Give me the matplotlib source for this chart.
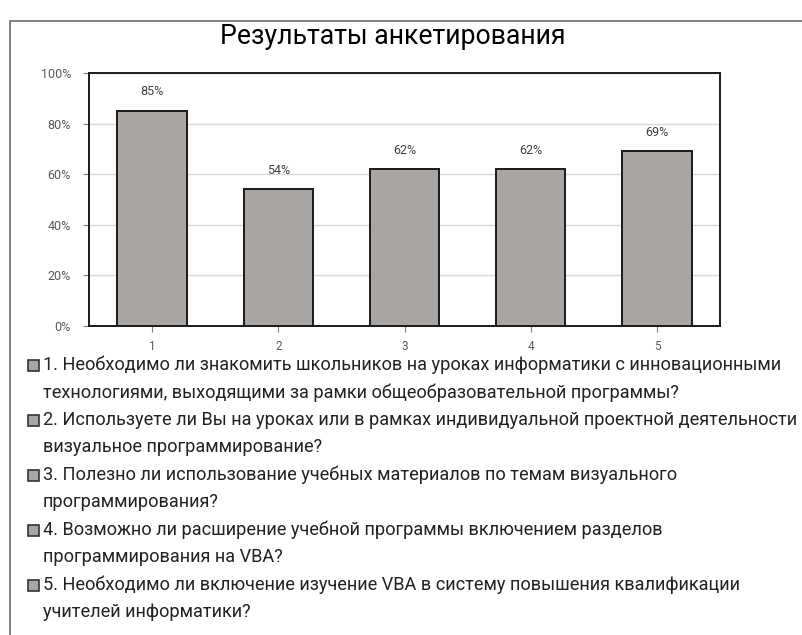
import matplotlib
matplotlib.use("Agg")
import matplotlib.pyplot as plt
from matplotlib.patches import Rectangle
from matplotlib.ticker import FuncFormatter

# Survey results, percent of positive answers per question
categories = ["1", "2", "3", "4", "5"]
values = [85, 54, 62, 62, 69]
y_ticks = [0, 20, 40, 60, 80, 100]
title = "Результаты анкетирования"

# Question texts for the legend, already broken into lines
questions = [
    ["1. Необходимо ли знакомить школьников на уроках информатики с инновационными",
     "технологиями, выходящими за рамки общеобразовательной программы?"],
    ["2. Используете ли Вы на уроках или в рамках индивидуальной проектной деятельности",
     "визуальное программирование?"],
    ["3. Полезно ли использование учебных материалов по темам визуального",
     "программирования?"],
    ["4. Возможно ли расширение учебной программы включением разделов",
     "программирования на VBA?"],
    ["5. Необходимо ли включение изучение VBA в систему повышения квалификации",
     "учителей информатики?"],
]

W, H = 802, 635
BAR_COLOR = "#a8a5a2"
TEXT_GRAY = "#595959"

plt.rcParams["font.family"] = ["Roboto", "DejaVu Sans"]

fig = plt.figure(figsize=(W / 100, H / 100), dpi=100)
fig.patch.set_facecolor("white")


def fx(px):
    return px / W


def fy(py):
    return 1 - py / H


# outer chart border, runs off the right and bottom edges
fig.patches.append(Rectangle((fx(10), fy(700)), fx(900), fy(21) - fy(700),
                             transform=fig.transFigure, fill=False,
                             edgecolor="#6b6b6b", linewidth=1.2, clip_on=False))

ax = fig.add_axes([fx(89), fy(326), fx(720) - fx(89), fy(73) - fy(326)])
x = list(range(len(categories)))
bars = ax.bar(x, values, width=0.55, color=BAR_COLOR, edgecolor="#1a1a1a",
              linewidth=1.4, zorder=3)
for b, v in zip(bars, values):
    ax.annotate(f"{v}%", (b.get_x() + b.get_width() / 2, v),
                xytext=(0, 9), textcoords="offset points",
                ha="center", va="bottom", fontsize=9, color="#404040")

ax.set_xlim(-0.5, len(categories) - 0.5)
ax.set_ylim(0, 100)
ax.set_yticks(y_ticks)
ax.yaxis.set_major_formatter(FuncFormatter(lambda v, _: f"{v:.0f}%"))
ax.set_xticks(x)
ax.set_xticklabels(categories)
ax.tick_params(axis="y", length=4, pad=9, labelsize=9, labelcolor=TEXT_GRAY,
               color="#7f7f7f")
ax.tick_params(axis="x", length=4, pad=6, labelsize=8.5, labelcolor=TEXT_GRAY,
               color="#7f7f7f")
ax.grid(axis="y", color="#d9d9d9", linewidth=1, zorder=0)
for s in ax.spines.values():
    s.set_color("#1a1a1a")
    s.set_linewidth(1.4)

fig.text(fx(393), fy(37), title, ha="center", va="center", fontsize=19.2,
         color="black")

# legend: gray square + wrapped question text
y0 = 365
for i, lines in enumerate(questions):
    yy = y0 + i * 55
    fig.patches.append(Rectangle((fx(28), fy(yy + 6)), fx(11), fy(yy - 5) - fy(yy + 6),
                                 transform=fig.transFigure, facecolor=BAR_COLOR,
                                 edgecolor="#333333", linewidth=1.2))
    for j, line in enumerate(lines):
        fig.text(fx(43), fy(yy + j * 27.4), line, ha="left", va="center",
                 fontsize=13.1, color="#222222")

fig.savefig("out.png", dpi=100)
